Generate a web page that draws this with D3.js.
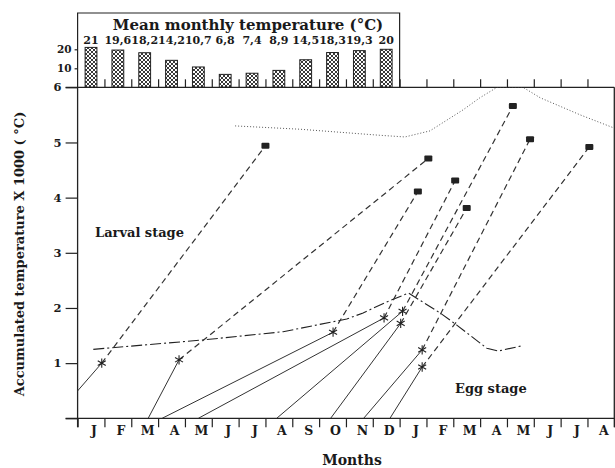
<!DOCTYPE html>
<html>
<head>
<meta charset="utf-8">
<script src="https://cdn.jsdelivr.net/npm/d3@7"></script>
<style>
body { margin: 0; background: #fff; }
text { font-family: "DejaVu Serif", serif; font-weight: bold; fill: #1a1a1a; }
.axis path, .axis line { stroke: #222; stroke-width: 1.2; }
</style>
</head>
<body>
<svg width="615" height="468"></svg>
<script>
// month labels along the bottom (Jan of year 1 to Aug of year 2)
var months = ["J","F","M","A","M","J","J","A","S","O","N","D","J","F","M","A","M","J","J","A"];

// inset: mean monthly temperature
var tempLabels = ["21","19,6","18,2","14,2","10,7","6,8","7,4","8,9","14,5","18,3","19,3","20"];
var tempValues = [21, 19.6, 18.2, 14.2, 10.7, 6.8, 7.4, 8.9, 14.5, 18.3, 19.3, 20];

// egg stage: start month (value 0) -> hatching (asterisk)
var eggStart = [-0.89, 2.63, 3.15, 4.50, 7.42, 9.43, 10.66, 11.64];
var hatchMonth = [0.90, 3.78, 9.52, 11.42, 12.11, 12.04, 12.84, 12.84];
var hatchValue = [1.00, 1.06, 1.56, 1.82, 1.94, 1.72, 1.24, 0.93];

// larval stage: hatching -> end (square)
var endMonth = [7.00, 13.07, 12.68, 14.07, 16.22, 14.50, 16.86, 19.07];
var endValue = [4.94, 4.71, 4.11, 4.31, 5.66, 3.81, 5.06, 4.92];

// upper limit (dotted)
var upperMonth = [5.87, 8.29, 11.27, 12.20, 13.13, 14.36, 14.99, 15.63, 16.60, 17.24, 18.73, 20.0];
var upperValue = [5.30, 5.24, 5.13, 5.10, 5.21, 5.59, 5.81, 6.00, 6.00, 5.81, 5.50, 5.26];

// lower limit of larval stage (dash-dot)
var lowerMonth = [0.585, 4.67, 7.66, 10.03, 10.64, 11.52, 12.33, 13.51, 14.13, 15.25, 15.68, 16.61];
var lowerValue = [1.25, 1.42, 1.57, 1.80, 1.91, 2.11, 2.27, 1.91, 1.69, 1.27, 1.22, 1.32];

var svg = d3.select("svg");

var x = d3.scaleLinear().domain([0, 20]).range([77.6, 614.3]);
var y = d3.scaleLinear().domain([0, 6]).range([418.3, 87.3]);
var yT = d3.scaleLinear().domain([0, 20]).range([87.3, 49.3]);
var xb = d3.scaleBand().domain(d3.range(12)).range([x(0), x(12)])
    .paddingInner(0.56).paddingOuter(0.28);

var defs = svg.append("defs");
var pat = defs.append("pattern")
    .attr("id", "hatch")
    .attr("patternUnits", "userSpaceOnUse")
    .attr("width", 4).attr("height", 4);
pat.append("rect").attr("width", 4).attr("height", 4).attr("fill", "#fff");
pat.append("path")
    .attr("d", "M0,0L4,4M4,0L0,4")
    .attr("stroke", "#222").attr("stroke-width", 0.9);

defs.append("clipPath").attr("id", "plot")
  .append("rect")
    .attr("x", x(0)).attr("y", y(6))
    .attr("width", x(20) - x(0)).attr("height", y(0) - y(6));

// ---- inset bar chart
svg.append("path")
    .attr("d", "M" + x(0) + "," + y(6) + "V13H" + x(12) + "V" + y(6))
    .attr("fill", "none").attr("stroke", "#222").attr("stroke-width", 1.2);

svg.append("text")
    .attr("x", 248).attr("y", 29.5)
    .attr("text-anchor", "middle")
    .style("font-size", "15px")
    .text("Mean monthly temperature (°C)");

svg.selectAll(".bar")
    .data(tempValues)
  .enter().append("rect")
    .attr("class", "bar")
    .attr("x", function(d, i) { return xb(i); })
    .attr("width", xb.bandwidth())
    .attr("y", function(d) { return yT(d); })
    .attr("height", function(d) { return yT(0) - yT(d); })
    .attr("fill", "url(#hatch)")
    .attr("stroke", "#222").attr("stroke-width", 1);

svg.selectAll(".tval")
    .data(tempLabels)
  .enter().append("text")
    .attr("class", "tval")
    .attr("x", function(d, i) { return xb(i) + xb.bandwidth() / 2; })
    .attr("y", 43.5)
    .attr("text-anchor", "middle")
    .style("font-size", "11px")
    .text(function(d) { return d; });

svg.append("g")
    .attr("class", "axis")
    .attr("transform", "translate(" + x(0) + ",0)")
    .call(d3.axisLeft(yT).tickValues([10, 20]).tickSize(3).tickPadding(3).tickSizeOuter(0))
    .call(function(g) { g.select(".domain").remove(); })
    .selectAll("text").style("font-size", "10.5px").style("font-family", null);

// ---- main frame and axes
svg.append("g")
    .attr("class", "axis")
    .attr("transform", "translate(0," + y(0) + ")")
    .call(d3.axisBottom(x).tickValues(d3.range(0, 21)).tickSize(9).tickFormat("").tickSizeOuter(0))
    .call(function(g) { g.select(".domain").remove(); });

svg.append("g")
    .attr("class", "axis")
    .attr("transform", "translate(0," + y(6) + ")")
    .call(d3.axisTop(x).tickValues(d3.range(1, 20)).tickSize(8).tickFormat("").tickSizeOuter(0))
    .call(function(g) { g.select(".domain").remove(); });

svg.append("g")
    .attr("class", "axis")
    .attr("transform", "translate(" + x(0) + ",0)")
    .call(d3.axisLeft(y).tickValues(d3.range(0, 7)).tickSize(12).tickPadding(4)
        .tickFormat(function(d) { return d ? d : ""; }).tickSizeOuter(0))
    .call(function(g) { g.select(".domain").remove(); })
    .selectAll("text").style("font-size", "11.5px").style("font-family", null);

var frame = svg.append("g").attr("stroke", "#222").attr("stroke-width", 1.3);
frame.append("line").attr("x1", x(0) - 12).attr("x2", x(20)).attr("y1", y(0)).attr("y2", y(0));
frame.append("line").attr("x1", x(0) - 12).attr("x2", x(20)).attr("y1", y(6)).attr("y2", y(6));
frame.append("line").attr("x1", x(0)).attr("x2", x(0)).attr("y1", y(6)).attr("y2", y(0) + 9);
frame.append("line").attr("x1", x(20)).attr("x2", x(20)).attr("y1", y(6)).attr("y2", y(0) + 9);

svg.selectAll(".month")
    .data(months)
  .enter().append("text")
    .attr("class", "month")
    .attr("x", function(d, i) { return x(i + 0.5) + 3; })
    .attr("y", 435)
    .attr("text-anchor", "middle")
    .style("font-size", "12.5px")
    .text(function(d) { return d; });

svg.append("text")
    .attr("x", 352).attr("y", 465)
    .attr("text-anchor", "middle")
    .style("font-size", "14px")
    .text("Months");

svg.append("text")
    .attr("transform", "translate(24,254) rotate(-90)")
    .attr("text-anchor", "middle")
    .style("font-size", "13px")
    .text("Accumulated temperature X 1000 ( °C)");

// ---- lines
var plot = svg.append("g").attr("clip-path", "url(#plot)");
var line = d3.line().x(function(d) { return x(d[0]); }).y(function(d) { return y(d[1]); });

plot.append("path")
    .datum(d3.zip(upperMonth, upperValue))
    .attr("d", line)
    .attr("fill", "none").attr("stroke", "#444")
    .attr("stroke-width", 0.9).attr("stroke-dasharray", "1,2");

plot.append("path")
    .datum(d3.zip(lowerMonth, lowerValue))
    .attr("d", line)
    .attr("fill", "none").attr("stroke", "#222")
    .attr("stroke-width", 1.1).attr("stroke-dasharray", "11,3,2,3");

var egg = eggStart.map(function(m, i) { return [[m, 0], [hatchMonth[i], hatchValue[i]]]; });
var larva = hatchMonth.map(function(m, i) { return [[m, hatchValue[i]], [endMonth[i], endValue[i]]]; });

plot.selectAll(".egg")
    .data(egg)
  .enter().append("path")
    .attr("class", "egg")
    .attr("d", line)
    .attr("fill", "none").attr("stroke", "#333").attr("stroke-width", 1);

plot.selectAll(".larva")
    .data(larva)
  .enter().append("path")
    .attr("class", "larva")
    .attr("d", line)
    .attr("fill", "none").attr("stroke", "#333")
    .attr("stroke-width", 1.2).attr("stroke-dasharray", "6,4");

plot.selectAll(".hatch")
    .data(d3.zip(hatchMonth, hatchValue))
  .enter().append("path")
    .attr("class", "hatch")
    .attr("transform", function(d) { return "translate(" + x(d[0]) + "," + y(d[1]) + ")"; })
    .attr("d", d3.symbol(d3.symbolAsterisk, 60))
    .attr("fill", "none").attr("stroke", "#222").attr("stroke-width", 1.1);

plot.selectAll(".end")
    .data(d3.zip(endMonth, endValue))
  .enter().append("rect")
    .attr("class", "end")
    .attr("x", function(d) { return x(d[0]) - 4; })
    .attr("y", function(d) { return y(d[1]) - 3; })
    .attr("width", 8).attr("height", 6).attr("rx", 1)
    .attr("fill", "#222");

svg.append("text")
    .attr("x", 95).attr("y", 236.5)
    .style("font-size", "13px")
    .text("Larval stage");

svg.append("text")
    .attr("x", 455).attr("y", 393)
    .style("font-size", "13px")
    .text("Egg stage");
</script>
</body>
</html>
